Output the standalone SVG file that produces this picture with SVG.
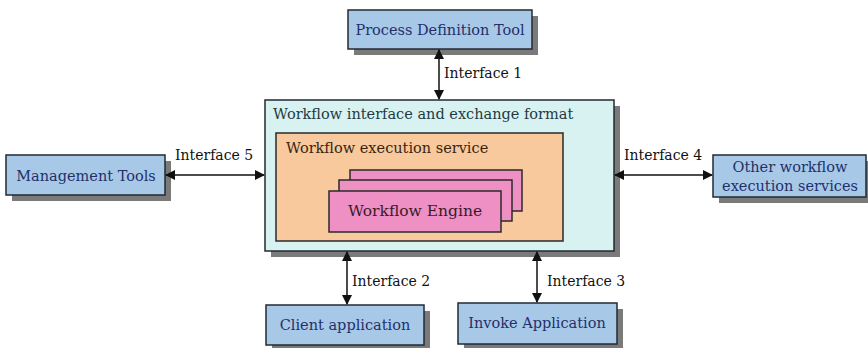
<svg xmlns="http://www.w3.org/2000/svg" width="868" height="348" viewBox="0 0 868 348">
<style>
.t{font-family:'DejaVu Serif',serif;font-size:14.5px}
.blue{fill:#a8c8e8;stroke:#222a35;stroke-width:1.5}
.sh{fill:#7a7a7a}
.bt{fill:#23306a}
.lbl{fill:#111;font-size:14px}
.con{stroke:#111;stroke-width:1.5;fill:none;marker-start:url(#ah);marker-end:url(#ah)}
</style>
<defs>
<marker id="ah" viewBox="0 0 10 10" refX="9" refY="5" markerWidth="10" markerHeight="10" markerUnits="userSpaceOnUse" orient="auto-start-reverse">
<path d="M0,0 L10,5 L0,10 z" fill="#111"/>
</marker>
</defs>
<g id="pdt">
<rect class="sh" x="354" y="16" width="184" height="39"/>
<rect class="blue" x="348" y="10" width="184" height="39"/>
<text class="t bt" x="440" y="35" text-anchor="middle">Process Definition Tool</text>
</g>
<g id="mgmt">
<rect class="sh" x="12" y="161" width="159" height="40"/>
<rect class="blue" x="6" y="155" width="159" height="40"/>
<text class="t bt" x="86" y="181" text-anchor="middle">Management Tools</text>
</g>
<g id="other">
<rect class="sh" x="719" y="161" width="153" height="42"/>
<rect class="blue" x="713" y="155" width="153" height="42"/>
<text class="t bt" x="790" y="172" text-anchor="middle">Other workflow</text>
<text class="t bt" x="790" y="191" text-anchor="middle">execution services</text>
</g>
<g id="client">
<rect class="sh" x="272" y="311" width="158" height="40"/>
<rect class="blue" x="266" y="305" width="158" height="40"/>
<text class="t bt" x="345" y="330" text-anchor="middle">Client application</text>
</g>
<g id="invoke">
<rect class="sh" x="464" y="309" width="159" height="41"/>
<rect class="blue" x="458" y="303" width="159" height="41"/>
<text class="t bt" x="537" y="328" text-anchor="middle">Invoke Application</text>
</g>
<g id="wif">
<rect class="sh" x="271" y="106" width="349" height="151"/>
<rect x="265" y="100" width="349" height="151" fill="#d8f2f2" stroke="#222a35" stroke-width="1.5"/>
<text class="t" x="273" y="119" fill="#1e3a44">Workflow interface and exchange format</text>
</g>
<g id="wes">
<rect x="276" y="133" width="287" height="108" fill="#f8c99c" stroke="#2a2a2a" stroke-width="1.5"/>
<text class="t" x="286" y="153" fill="#3a2410">Workflow execution service</text>
</g>
<g id="engine">
<rect x="350" y="170" width="172" height="41" fill="#ee90c4" stroke="#2a2a2a" stroke-width="1.5"/>
<rect x="339" y="180" width="173" height="41" fill="#ee90c4" stroke="#2a2a2a" stroke-width="1.5"/>
<rect x="329" y="191" width="172" height="41" fill="#ee90c4" stroke="#2a2a2a" stroke-width="1.5"/>
<text class="t" x="415" y="216" text-anchor="middle" fill="#3a1a2a" style="font-size:15.5px">Workflow Engine</text>
</g>
<g id="connectors">
<line class="con" x1="439" y1="50" x2="439" y2="99"/>
<line class="con" x1="166" y1="175" x2="264" y2="175"/>
<line class="con" x1="615" y1="175" x2="712" y2="175"/>
<line class="con" x1="347" y1="252" x2="347" y2="304"/>
<line class="con" x1="537" y1="252" x2="537" y2="302"/>
<text class="t lbl" x="444" y="78">Interface 1</text>
<text class="t lbl" x="175" y="160">Interface 5</text>
<text class="t lbl" x="624" y="160">Interface 4</text>
<text class="t lbl" x="352" y="286">Interface 2</text>
<text class="t lbl" x="547" y="286">Interface 3</text>
</g>
</svg>
